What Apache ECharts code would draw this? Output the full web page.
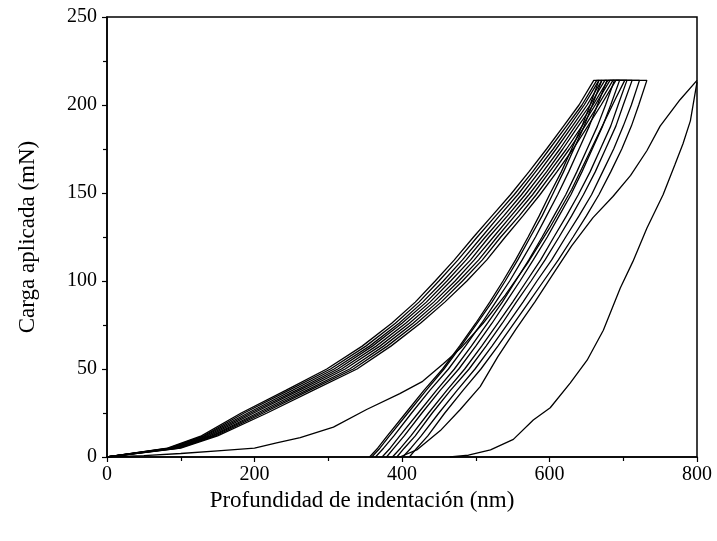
<!DOCTYPE html>
<html><head><meta charset="utf-8">
<script src="https://cdn.jsdelivr.net/npm/echarts@6/dist/echarts.min.js"></script>
<style>html,body{margin:0;padding:0;background:#fff}#c{width:717px;height:541px}</style>
</head><body><div id="c"></div>
<script>
// Load levels (mN) shared by the loading / unloading branches
const loadLevels = [0,5,12,25,38,50,63,76,88,100,112,125,137,149,162,175,188,200,214];

// Loading branches: depth (nm) at each load level
const loadDepth1 = [0,82,128,182,243,298,346,386,418,445,471,497,522,547,572,596,619,640,660];
const loadDepth2 = [0,84,131,186,247,303,351,391,423,450,476,502,527,552,577,600,623,644,664];
const loadDepth3 = [0,86,133,191,252,308,356,396,428,456,482,508,532,557,581,605,627,647,667];
const loadDepth4 = [0,89,136,195,257,313,360,400,433,461,487,513,538,562,586,609,631,651,671];
const loadDepth5 = [0,91,139,199,261,318,365,405,438,466,493,518,543,567,591,614,635,655,675];
const loadDepth6 = [0,93,142,204,266,323,370,410,443,472,498,524,548,572,596,618,639,659,679];
const loadDepth7 = [0,95,144,208,271,329,375,415,448,477,504,529,553,577,600,623,644,662,682];
const loadDepth8 = [0,98,147,212,275,334,380,420,453,482,509,534,559,582,605,627,648,666,686];
const loadDepth9 = [0,100,150,217,280,339,385,425,458,488,515,540,564,587,610,632,652,670,690];

// Unloading branches: depth (nm) at each load level
const unloadDepth1 = [356,367,380,405,430,455,478,500,519,537,554,571,586,600,616,630,644,655,667];
const unloadDepth2 = [364,375,389,413,438,463,486,508,527,546,563,581,596,611,626,640,654,665,678];
const unloadDepth3 = [359,370,383,408,433,457,480,502,522,540,557,574,590,604,619,633,647,658,671];
const unloadDepth4 = [373,384,397,422,447,471,494,516,536,554,572,590,606,622,637,651,665,676,688];
const unloadDepth5 = [379,389,403,427,452,477,500,522,541,560,578,597,613,629,644,658,672,683,695];
const unloadDepth6 = [387,398,412,436,461,485,508,530,550,569,588,606,623,639,655,669,683,693,705];
const unloadDepth7 = [393,403,418,441,466,491,514,536,555,575,594,613,630,646,662,676,690,700,712];
const unloadDepth8 = [401,412,426,450,475,499,522,544,564,583,603,622,640,657,672,687,700,711,722];
const unloadDepth9 = [410,420,435,458,483,507,530,552,572,592,612,632,650,667,683,698,711,721,732];

// Soft-start curve
const softDepth = [0,50,100,150,200,230,262,307,352,397,428,456,480,510,540,570,600,630,660,690,702];
const softLoad  = [0,0.8,2,3.5,5,8,11,17,27,36,43,53,62,76,92,110,130,152,178,204,214];

// Deep curve (to 800 nm)
const deepADepth = [397,420,452,479,506,530,555,580,605,630,659,686,710,732,750,777,800];
const deepALoad  = [0,4,15,27,40,57,73,88,104,120,136,148,160,174,188,203,214];
const deepBDepth = [465,490,520,551,578,601,628,651,673,696,713,732,754,770,781,791,800];
const deepBLoad  = [0,1,4,10,21,28,42,55,72,96,111,130,149,166,178,191,213];

const loadSets = [loadDepth1,loadDepth2,loadDepth3,loadDepth4,loadDepth5,loadDepth6,loadDepth7,loadDepth8,loadDepth9];
const unloadSets = [unloadDepth1,unloadDepth2,unloadDepth3,unloadDepth4,unloadDepth5,unloadDepth6,unloadDepth7,unloadDepth8,unloadDepth9];

const lineStyle = {color:'#000', width:1.3};
const series = [];
loadSets.forEach((ld, i) => {
  const up = loadLevels.map((p, k) => [ld[k], p]);
  const down = loadLevels.map((p, k) => [unloadSets[i][k], p]).reverse();
  series.push({type:'line', data: up.concat(down), showSymbol:false, symbol:'none', lineStyle, silent:true});
});
series.push({type:'line', data: softDepth.map((h,k)=>[h, softLoad[k]]), symbol:'none', lineStyle, silent:true});
series.push({type:'line', data: deepADepth.map((h,k)=>[h, deepALoad[k]]), symbol:'none', lineStyle, silent:true});
series.push({type:'line', data: deepBDepth.map((h,k)=>[h, deepBLoad[k]]), symbol:'none', lineStyle, silent:true});

const font = '"Liberation Serif","Times New Roman",serif';
const axisCommon = {
  axisLine:{show:true, onZero:false, lineStyle:{color:'#000', width:1.5}},
  axisTick:{show:true, inside:false, length:5, lineStyle:{color:'#000', width:1.2}},
  minorTick:{show:true, splitNumber:2, length:4, lineStyle:{color:'#000', width:1.2}},
  splitLine:{show:false},
  axisLabel:{color:'#000', fontFamily:font, fontSize:20},
  nameTextStyle:{color:'#000', fontFamily:font, fontSize:23}
};

const chart = echarts.init(document.getElementById('c'), null, {renderer:'canvas'});
chart.setOption({
  animation:false,
  backgroundColor:'#fff',
  grid:{left:107, right:20, top:17, bottom:84, show:true, borderColor:'#000', borderWidth:1.5, backgroundColor:'transparent'},
  xAxis:Object.assign({}, axisCommon, {
    type:'value', min:0, max:800, interval:200,
    name:'Profundidad de indentación (nm)', nameLocation:'middle', nameGap:30,
    nameTextStyle:Object.assign({}, axisCommon.nameTextStyle, {padding:[0,80,0,0]}),
    axisLabel:Object.assign({}, axisCommon.axisLabel, {margin:8})
  }),
  yAxis:Object.assign({}, axisCommon, {
    type:'value', min:0, max:250, interval:50,
    name:'Carga aplicada (mN)', nameLocation:'middle', nameGap:68,
    axisLabel:Object.assign({}, axisCommon.axisLabel, {margin:10})
  }),
  series
});
</script>
</body></html>
